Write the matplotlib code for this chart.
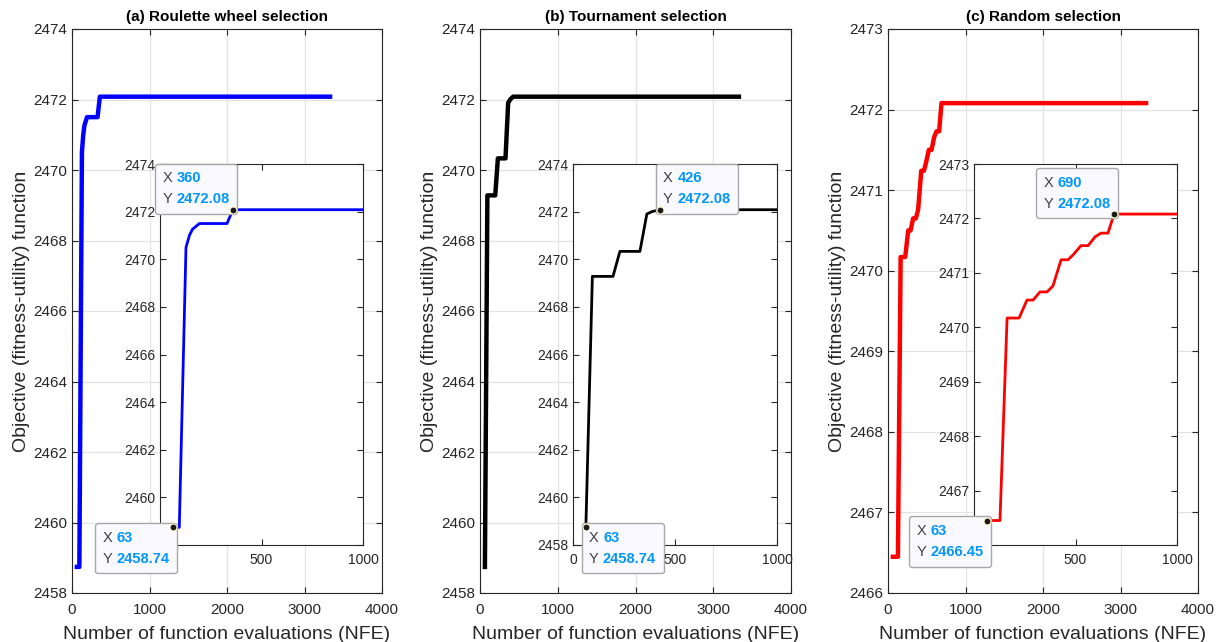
import numpy as np
import matplotlib
matplotlib.use('Agg')
import matplotlib.pyplot as plt
from matplotlib.offsetbox import TextArea, HPacker, VPacker, AnnotationBbox

plt.rcParams['font.family'] = ['Liberation Sans', 'DejaVu Sans']

# convergence curves (NFE, objective)
roulette_x = [63, 95, 128, 145, 160, 194, 330, 345, 360, 3330]
roulette_y = [2458.74, 2458.74, 2470.5, 2471.0, 2471.26, 2471.5, 2471.5, 2471.8, 2472.08, 2472.08]

tournament_x = [63, 95, 196, 230, 328, 362, 387, 426, 3330]
tournament_y = [2458.74, 2469.28, 2469.28, 2470.33, 2470.33, 2471.9, 2472.0, 2472.08, 2472.08]

random_x = [63, 128, 163, 222, 261, 291, 325, 360, 389, 429, 463, 488, 527, 562, 596, 626, 660, 690, 3330]
random_y = [2466.45, 2466.45, 2470.17, 2470.17, 2470.5, 2470.5, 2470.65, 2470.65, 2470.76, 2471.24,
            2471.24, 2471.33, 2471.5, 2471.5, 2471.66, 2471.73, 2471.73, 2472.08, 2472.08]

titles = ['(a) Roulette wheel selection', '(b) Tournament selection', '(c) Random selection']
colors = ['#0000FF', 'black', '#FF0000']
ylims = [(2458, 2474), (2458, 2474), (2466, 2473)]
ysteps = [2, 2, 1]
# datatips: (x, y) of the two points of each panel
tips_start = [(63, 2458.74), (63, 2458.74), (63, 2466.45)]
tips_end = [(360, 2472.08), (426, 2472.08), (690, 2472.08)]
# box corner anchored on the point
align_start = [(1, 1), (0, 1), (1, 1)]
align_end = [(1, 0), (0, 0), (1, 0)]

data = [(roulette_x, roulette_y), (tournament_x, tournament_y), (random_x, random_y)]

tc = '#262626'
main_left = [72, 480, 888]
main_w = [310, 311, 310]
ins_left = [160, 573, 974]
ins_w = [203, 204, 203]
W, H = 1221, 642

fig = plt.figure(figsize=(12.21, 6.42), dpi=100)


def style_axes(ax, fs, pad):
    for s in ax.spines.values():
        s.set_color(tc)
        s.set_linewidth(0.8)
    ax.tick_params(direction='in', top=True, right=True, length=4, width=0.8,
                   colors=tc, labelsize=fs, labelcolor=tc)
    ax.tick_params(axis='x', pad=pad)


def datatip(ax, xy, align):
    fs = 10.5
    r1 = HPacker(children=[TextArea('X ', textprops=dict(color='#404040', size=fs)),
                           TextArea('%g' % xy[0], textprops=dict(color='#0096FF', size=fs, weight='bold'))],
                 align='baseline', pad=0, sep=0)
    r2 = HPacker(children=[TextArea('Y ', textprops=dict(color='#404040', size=fs)),
                           TextArea('%.2f' % xy[1], textprops=dict(color='#0096FF', size=fs, weight='bold'))],
                 align='baseline', pad=0, sep=0)
    box = VPacker(children=[r1, r2], align='left', pad=0, sep=5)
    dx = -2.5 if align[0] == 1 else 2.5
    dy = 2.5 if align[1] == 0 else -2.5
    ab = AnnotationBbox(box, xy, xybox=(dx, dy), xycoords='data', boxcoords='offset points',
                        box_alignment=align, pad=0.5, frameon=True, annotation_clip=False,
                        bboxprops=dict(boxstyle='round,pad=0.55,rounding_size=0.2', fc='#F9F9FF',
                                       ec='#A8A8A8', lw=1.0), zorder=10)
    ax.add_artist(ab)
    ax.plot(xy[0], xy[1], 'o', ms=5, mfc='#1A1A1A', mec='#FFF8C8', mew=0.8, zorder=11, clip_on=False)


for i in range(3):
    x, y = data[i]
    ax = fig.add_axes([main_left[i] / W, (H - 593) / H, main_w[i] / W, 564 / H])
    ax.plot(x, y, color=colors[i], linewidth=3.2, zorder=3)
    ax.set_xlim(0, 4000)
    ax.set_ylim(*ylims[i])
    ax.set_xticks(np.arange(0, 4001, 1000))
    ax.set_yticks(np.arange(ylims[i][0], ylims[i][1] + 0.1, ysteps[i]))
    ax.grid(True, color='#E3E3E3', linewidth=0.9)
    ax.set_axisbelow(True)
    style_axes(ax, 11, 7)
    ax.set_title(titles[i], fontsize=11, fontweight='bold', color='black', pad=6)
    ax.set_xlabel('Number of function evaluations (NFE)', fontsize=14, color=tc, labelpad=7)
    ax.set_ylabel('Objective (fitness-utility) function', fontsize=14, color=tc, labelpad=2)

    ins = fig.add_axes([ins_left[i] / W, (H - 545) / H, ins_w[i] / W, 381 / H])
    ins.plot(x, y, color=colors[i], linewidth=2.0, zorder=3)
    ins.set_xlim(0, 1000)
    ins.set_ylim(*ylims[i])
    ins.set_xticks([0, 500, 1000])
    ins.set_yticks(np.arange(ylims[i][0], ylims[i][1] + 0.1, ysteps[i]))
    style_axes(ins, 10, 6)
    datatip(ins, tips_start[i], align_start[i])
    datatip(ins, tips_end[i], align_end[i])

fig.savefig('out.png', dpi=100)
